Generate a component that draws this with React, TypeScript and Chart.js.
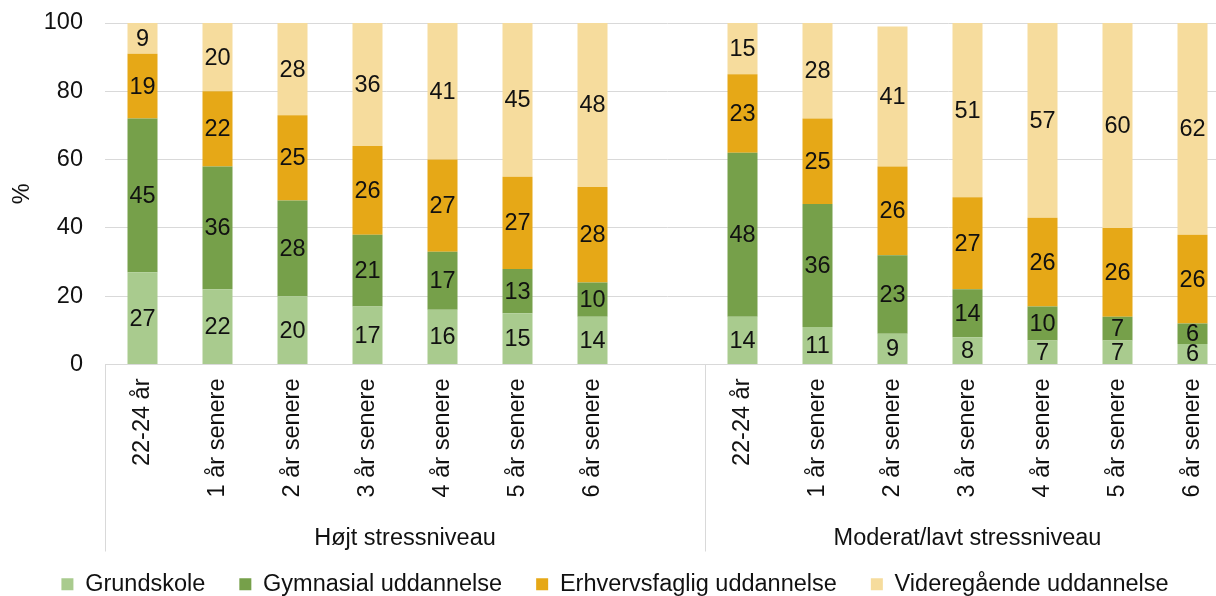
import React, { useEffect, useRef } from "react";
import { Chart, registerables } from "chart.js";

Chart.register(...registerables);

// Periods shown under each stress level group
const periodLabels = [
  "22-24 år",
  "1 år senere",
  "2 år senere",
  "3 år senere",
  "4 år senere",
  "5 år senere",
  "6 år senere",
];
const groupNames = ["Højt stressniveau", "Moderat/lavt stressniveau"];

const seriesNames = [
  "Grundskole",
  "Gymnasial uddannelse",
  "Erhvervsfaglig uddannelse",
  "Videregående uddannelse",
];
const seriesColors = ["#A9CB8E", "#76A04A", "#E6A817", "#F6DC9D"];

// Højt stressniveau (%)
const highGrundskole = [27, 22, 20, 17, 16, 15, 14];
const highGymnasial = [45, 36, 28, 21, 17, 13, 10];
const highErhvervsfaglig = [19, 22, 25, 26, 27, 27, 28];
const highVideregaaende = [9, 20, 28, 36, 41, 45, 48];

// Moderat/lavt stressniveau (%)
const lowGrundskole = [14, 11, 9, 8, 7, 7, 6];
const lowGymnasial = [48, 36, 23, 14, 10, 7, 6];
const lowErhvervsfaglig = [23, 25, 26, 27, 26, 26, 26];
const lowVideregaaende = [15, 28, 41, 51, 57, 60, 62];

const yTicks = [0, 20, 40, 60, 80, 100];

const FONT = "'Liberation Sans', Arial, sans-serif";
const SIZE = 23.5;
const TEXT = "#111111";
const GRID = "#D9D9D9";

// One empty slot separates the two groups
const combine = (a: number[], b: number[]) => [...a, null, ...b];
const labels = [...periodLabels, "", ...periodLabels];
const groupBounds = [0, periodLabels.length + 1, labels.length];

const seriesData = [
  combine(highGrundskole, lowGrundskole),
  combine(highGymnasial, lowGymnasial),
  combine(highErhvervsfaglig, lowErhvervsfaglig),
  combine(highVideregaaende, lowVideregaaende),
];

const valueLabels = {
  id: "valueLabels",
  afterDatasetsDraw(chart: any) {
    const ctx = chart.ctx;
    ctx.save();
    ctx.font = `${SIZE}px ${FONT}`;
    ctx.fillStyle = TEXT;
    ctx.textAlign = "center";
    ctx.textBaseline = "middle";
    const area = chart.chartArea;
    chart.data.datasets.forEach((ds: any, di: number) => {
      const meta = chart.getDatasetMeta(di);
      meta.data.forEach((bar: any, i: number) => {
        const v = ds.data[i];
        if (v == null) return;
        const p = bar.getProps(["x", "y", "base"], true);
        const top = Math.max(p.y, area.top);
        ctx.fillText(String(v), p.x, (top + p.base) / 2 + 1);
      });
    });
    ctx.restore();
  },
};

const groupAxis = {
  id: "groupAxis",
  afterDraw(chart: any) {
    const ctx = chart.ctx;
    const xs = chart.scales.x;
    const area = chart.chartArea;
    const slot = xs.getPixelForValue(1) - xs.getPixelForValue(0);
    const start = xs.getPixelForValue(0) - slot / 2;
    const edges = groupBounds.map((i) => start + i * slot);
    ctx.save();
    ctx.strokeStyle = GRID;
    ctx.lineWidth = 1;
    edges.forEach((e) => {
      const x = Math.round(e) + 0.5;
      ctx.beginPath();
      ctx.moveTo(x, area.bottom);
      ctx.lineTo(x, area.bottom + 187);
      ctx.stroke();
    });
    ctx.font = `${SIZE}px ${FONT}`;
    ctx.fillStyle = TEXT;
    ctx.textAlign = "center";
    ctx.textBaseline = "middle";
    groupNames.forEach((name, g) => {
      ctx.fillText(name, (edges[g] + edges[g + 1]) / 2, area.bottom + 174);
    });
    ctx.restore();
  },
};

export default function App() {
  const canvasRef = useRef<HTMLCanvasElement | null>(null);

  useEffect(() => {
    const canvas = canvasRef.current;
    if (!canvas) return;
    const chart = new Chart(canvas, {
      type: "bar",
      data: {
        labels,
        datasets: seriesData.map((data, i) => ({
          label: seriesNames[i],
          data,
          backgroundColor: seriesColors[i],
          borderWidth: 0,
          categoryPercentage: 1,
          barPercentage: 0.4,
        })),
      },
      options: {
        responsive: false,
        animation: false,
        events: [],
        layout: { padding: { top: 23, right: 20, left: 0, bottom: 0 } },
        plugins: {
          tooltip: { enabled: false },
          legend: {
            position: "bottom",
            labels: {
              boxWidth: 12,
              boxHeight: 12,
              padding: 34,
              color: TEXT,
              font: { family: FONT, size: SIZE },
            },
          },
        },
        scales: {
          x: {
            stacked: true,
            grid: { display: false },
            border: { display: true, color: GRID },
            ticks: {
              autoSkip: false,
              minRotation: 90,
              maxRotation: 90,
              padding: 6,
              color: TEXT,
              font: { family: FONT, size: SIZE },
            },
            afterFit(scale: any) {
              scale.height = 174;
              scale.paddingLeft = 0;
              scale.paddingRight = 0;
            },
          },
          y: {
            stacked: true,
            min: 0,
            max: 100,
            afterBuildTicks(scale: any) {
              scale.ticks = yTicks.map((v) => ({ value: v }));
            },
            grid: { color: GRID, drawTicks: false },
            border: { display: false },
            ticks: {
              padding: 22,
              color: TEXT,
              font: { family: FONT, size: SIZE },
            },
            title: {
              display: true,
              text: "%",
              color: TEXT,
              font: { family: FONT, size: SIZE },
              padding: { top: 8, bottom: 0 },
            },
            afterFit(scale: any) {
              scale.width = 105;
              scale.paddingTop = 0;
              scale.paddingBottom = 0;
            },
          },
        },
      },
      plugins: [valueLabels, groupAxis],
    });
    return () => chart.destroy();
  }, []);

  return (
    <div
      style={{
        position: "fixed",
        left: 0,
        top: 0,
        width: 1216,
        height: 596,
        overflow: "hidden",
        background: "#fff",
      }}
    >
      <canvas ref={canvasRef} width={1250} height={606} style={{ display: "block" }} />
    </div>
  );
}
